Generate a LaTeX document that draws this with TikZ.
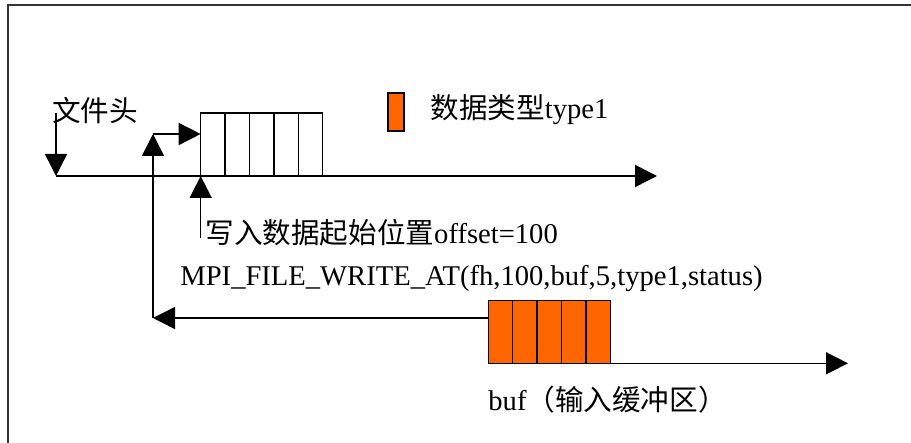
\documentclass[tikz,border=0pt]{standalone}
\usepackage{fontspec}
\setmainfont{Liberation Serif}
\newfontfamily\cjk{Noto Sans CJK SC}
\usetikzlibrary{arrows.meta, positioning}
\definecolor{buforange}{HTML}{FF6600}

\begin{document}
\begin{tikzpicture}[
    x=0.5pt, y=-0.5pt,
    cell/.style={rectangle, draw, line width=0.75pt, minimum width=12.2pt, minimum height=31.5pt, inner sep=0pt, outer sep=0pt},
    bufcell/.style={cell, fill=buforange},
    txt/.style={font=\fontsize{14.3}{17}\selectfont, inner sep=0pt, anchor=base west},
    arrow/.style={-{Triangle[length=11pt, width=11pt]}, line width=0.75pt},
    frame/.style={draw=black!80, line width=1pt}
]
\useasboundingbox (0,0) rectangle (911,443);
\clip (0,0) rectangle (911,443);
\draw[frame] (8,5) rectangle (1000,600);

% File and its header
\node[txt] (head) at (52,122) {{\cjk 文件头}};
\coordinate (hstart) at (56,113);
\coordinate (fstart) at (56,176);
\coordinate (fend) at (657,176);
\draw[arrow] (hstart) -- (fstart);
\draw[arrow] (fstart) -- (fend);

% Cells written into the file
\node[cell, anchor=south west] (fc1) at (200.7,176) {};
\node[cell, right=0pt of fc1] (fc2) {};
\node[cell, right=0pt of fc2] (fc3) {};
\node[cell, right=0pt of fc3] (fc4) {};
\node[cell, right=0pt of fc4] (fc5) {};

% Legend
\node[bufcell, minimum width=8pt, minimum height=19pt, anchor=north west] (key) at (388,93) {};
\node[txt] (keylbl) at (430,119) {{\cjk 数据类型}type1};

% Offset
\node[txt] (offset) at (205,244) {{\cjk 写入数据起始位置}offset=100};
\coordinate (offbot) at (200.7,238);
\draw[arrow] (offbot) -- (fc1.south west);

% Call
\node[txt] (call) at (180,286) {MPI\_FILE\_WRITE\_AT(fh,100,buf,5,type1,status)};

% Input buffer
\coordinate (bend) at (848,363.3);
\node[bufcell, anchor=south west] (bc1) at (488.3,363.3) {};
\node[bufcell, right=0pt of bc1] (bc2) {};
\node[bufcell, right=0pt of bc2] (bc3) {};
\node[bufcell, right=0pt of bc3] (bc4) {};
\node[bufcell, right=0pt of bc4] (bc5) {};
\draw[arrow] (bc5.south east) -- (bend);
\node[txt] (buflbl) at (488,411) {buf{\cjk （输入缓冲区）}};

% Data path from buffer to file
\coordinate (ret) at (153,318);
\coordinate (corner) at (153,134);
\draw[arrow] (bc1.west |- ret) -- (ret);
\draw[arrow] (ret) -- (corner);
\draw[arrow] (corner) -- (corner -| fc1.west);

\end{tikzpicture}
\end{document}
